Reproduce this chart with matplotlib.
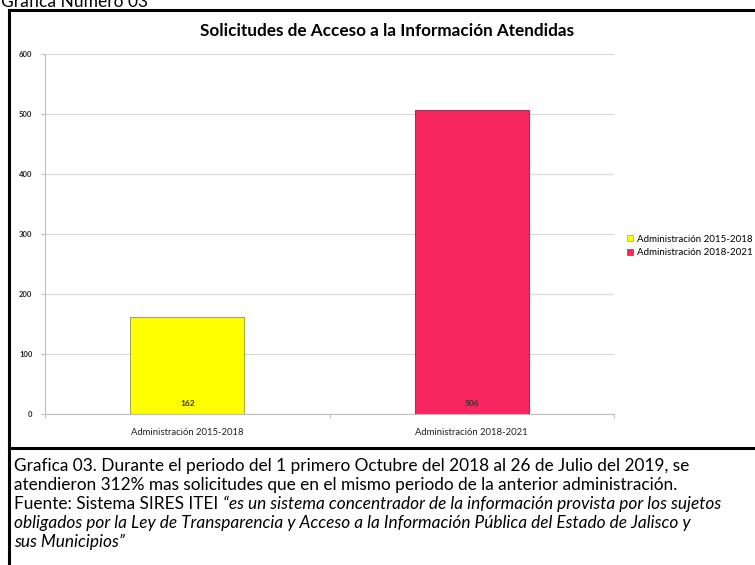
import matplotlib
matplotlib.use('Agg')
import matplotlib.pyplot as plt
from matplotlib.lines import Line2D
from matplotlib.patches import Patch

# datos de la grafica
categorias = ['Administración 2015-2018', 'Administración 2018-2021']
solicitudes = [162, 506]
colores = ['#FFFF00', '#F7265E']
bordes = ['#A8A850', '#B82850']
yticks = [0, 100, 200, 300, 400, 500, 600]

W, H = 755, 565
plt.rcParams['font.family'] = ['Lato', 'DejaVu Sans']

fig = plt.figure(figsize=(W / 100, H / 100), dpi=100)
fig.patch.set_facecolor('white')


def fx(x):
    return x / W


def fy(y):
    return 1 - y / H


# capa para marco y textos del pie
capa = fig.add_axes([0, 0, 1, 1])
capa.set_xlim(0, W)
capa.set_ylim(H, 0)
capa.axis('off')

# titulo de la tabla, recortado arriba
capa.text(1, 7, 'Grafica Numero 03', fontsize=12.5, va='baseline', ha='left', color='black')

# marco
capa.add_line(Line2D([9, 9], [10, H], color='black', lw=2.2))
capa.add_line(Line2D([9, W], [10, 10], color='black', lw=2.2))
capa.add_line(Line2D([9, W], [448, 448], color='black', lw=2.2))

# grafica de barras
ax = fig.add_axes([fx(45), fy(414), fx(614) - fx(45), fy(54) - fy(414)])
x = range(len(categorias))
ax.bar(x, solicitudes, width=0.4, color=colores, edgecolor=bordes, linewidth=0.8, zorder=3)
ax.set_xlim(-0.5, 1.5)
ax.set_ylim(0, 600)
ax.set_yticks(yticks)
ax.set_yticklabels([str(v) for v in yticks], fontsize=5.5, fontweight='bold', color='#222222')
ax.set_xticks([-0.5, 0.5, 1.5])
ax.set_xticklabels([])
ax.set_xticks(list(x), minor=True)
ax.set_xticklabels(categorias, minor=True, fontsize=6.8, color='#222222')
ax.tick_params(axis='x', which='minor', length=0, pad=10)
ax.tick_params(axis='x', which='major', length=3, color='#BFBFBF', direction='out')
ax.tick_params(axis='y', length=3, color='#BFBFBF', pad=6)
ax.grid(axis='y', color='#D9D9D9', lw=0.9, zorder=0)
for s in ['top', 'right']:
    ax.spines[s].set_visible(False)
ax.spines['left'].set_color('#BFBFBF')
ax.spines['bottom'].set_color('#BFBFBF')

for i, v in enumerate(solicitudes):
    ax.text(i, 18, str(v), ha='center', va='center', fontsize=6, fontweight='bold',
            color='#333333', zorder=4)

fig.text(fx(387), fy(31), 'Solicitudes de Acceso a la Información Atendidas',
         ha='center', va='center', fontsize=12.3, fontweight='bold')

handles = [Patch(facecolor=colores[i], edgecolor=bordes[i], lw=0.5) for i in range(2)]
fig.legend(handles, categorias, loc='center left', bbox_to_anchor=(fx(622), fy(246)),
           frameon=False, fontsize=7, handlelength=0.6, handleheight=0.6,
           handletextpad=0.4, labelspacing=0.45, borderpad=0)

# pie de la grafica
fs = 12.4
lineas_y = [466, 485, 504, 523, 542]
capa.text(14, lineas_y[0], 'Grafica 03. Durante el periodo del 1 primero Octubre del 2018 al 26 de Julio del 2019, se',
          fontsize=fs, va='center')
capa.text(14, lineas_y[1], 'atendieron 312% mas solicitudes que en el mismo periodo de la anterior administración.',
          fontsize=fs, va='center')
t = capa.text(14, lineas_y[2], 'Fuente: Sistema SIRES ITEI ', fontsize=fs, va='center')
capa.annotate('\u201ces un sistema concentrador de la información provista por los sujetos',
              xy=(1, 0), xycoords=t, va='bottom', ha='left', fontsize=fs, style='italic')
capa.text(14, lineas_y[3], 'obligados por la Ley de Transparencia y Acceso a la Información Pública del Estado de Jalisco y',
          fontsize=fs, va='center', style='italic')
capa.text(14, lineas_y[4], 'sus Municipios\u201d', fontsize=fs, va='center', style='italic')

fig.savefig('out.png', dpi=100)
